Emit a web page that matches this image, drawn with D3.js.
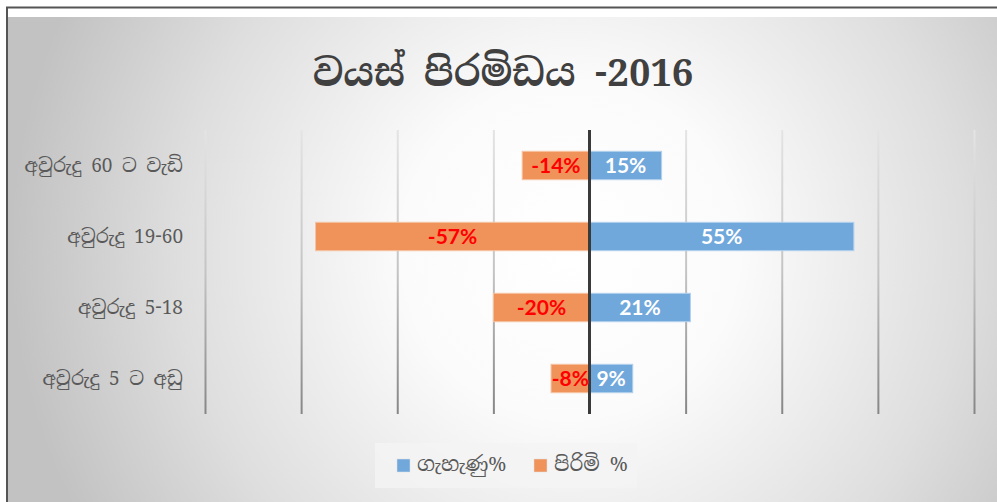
<!DOCTYPE html>
<html>
<head>
<meta charset="utf-8">
<script src="https://cdn.jsdelivr.net/npm/d3@7"></script>
<style>
  html, body { margin: 0; padding: 0; background: #fff; }
  svg { display: block; }
</style>
</head>
<body>
<div id="chart"></div>
<script>
(function(){

const width = 997;
const height = 502;

// data
const categories = ["අවුරුදු 60 ට වැඩි", "අවුරුදු 19-60", "අවුරුදු 5-18", "අවුරුදු 5 ට අඩු"];
const female = [15, 55, 21, 9];      // ගැහැණු%
const male = [-14, -57, -20, -8];    // පිරිමි %
const seriesNames = ["ගැහැණු%", "පිරිමි %"];
const gridTicks = [-80, -60, -40, -20, 20, 40, 60, 80];
const title = "වයස් පිරමිඩය -2016";

const sinhalaFont = "'Iskoola Pota', 'Noto Serif Sinhala', 'Noto Sans Sinhala', 'Liberation Serif', serif";
const labelFont = "Lato, 'Open Sans', 'Liberation Sans', sans-serif";

const colors = { female: "#70a8dc", male: "#f0935a" };

const svg = d3.select("#chart")
  .append("svg")
  .attr("width", width)
  .attr("height", height);

const defs = svg.append("defs");

// background gradient
const bg = defs.append("radialGradient")
  .attr("id", "bgGrad")
  .attr("gradientUnits", "userSpaceOnUse")
  .attr("cx", 570).attr("cy", 250).attr("r", 560);
bg.append("stop").attr("offset", "0%").attr("stop-color", "#ffffff");
bg.append("stop").attr("offset", "30%").attr("stop-color", "#fbfbfb");
bg.append("stop").attr("offset", "70%").attr("stop-color", "#dedede");
bg.append("stop").attr("offset", "100%").attr("stop-color", "#c2c2c2");

// gridline gradient: light at top, darker at bottom (local coords of tick lines)
const gg = defs.append("linearGradient")
  .attr("id", "gridGrad")
  .attr("gradientUnits", "userSpaceOnUse")
  .attr("x1", 0).attr("y1", -284).attr("x2", 0).attr("y2", 0);
gg.append("stop").attr("offset", "0%").attr("stop-color", "#e4e4e4");
gg.append("stop").attr("offset", "50%").attr("stop-color", "#c4c4c4");
gg.append("stop").attr("offset", "100%").attr("stop-color", "#868686");

// frame
svg.append("rect")
  .attr("x", 0).attr("y", 0).attr("width", width).attr("height", height)
  .attr("fill", "#ffffff");
svg.append("rect")
  .attr("x", 8).attr("y", 17).attr("width", width - 8).attr("height", height - 17)
  .attr("fill", "url(#bgGrad)");
svg.append("line")
  .attr("x1", 6).attr("x2", width).attr("y1", 7.5).attr("y2", 7.5)
  .attr("stroke", "#555").attr("stroke-width", 2);
svg.append("line")
  .attr("x1", 7).attr("x2", 7).attr("y1", 7).attr("y2", height)
  .attr("stroke", "#555").attr("stroke-width", 2);

// scales
const x = d3.scaleLinear()
  .domain([-80, 80])
  .range([205, 974]);

const y = d3.scaleBand()
  .domain(categories)
  .range([130, 414])
  .paddingInner(0.6)
  .paddingOuter(0.3);

// gridlines
const grid = svg.append("g")
  .attr("transform", "translate(0,414)")
  .call(d3.axisBottom(x)
    .tickValues(gridTicks)
    .tickSize(-284)
    .tickFormat(""));
grid.select(".domain").remove();
grid.selectAll(".tick line")
  .attr("stroke", "url(#gridGrad)")
  .attr("stroke-width", 2);

// category axis
const yAxis = svg.append("g")
  .attr("transform", "translate(183,0)")
  .call(d3.axisLeft(y).tickSize(0).tickPadding(0));
yAxis.select(".domain").remove();
yAxis.selectAll("text")
  .attr("fill", "#595959")
  .style("font-family", sinhalaFont)
  .style("font-size", "19px");

// bars
const rows = categories.map((c, i) => ({ cat: c, f: female[i], m: male[i] }));

svg.selectAll(".bar-m")
  .data(rows)
  .enter()
  .append("rect")
  .attr("class", "bar-m")
  .attr("x", d => x(d.m))
  .attr("y", d => y(d.cat))
  .attr("width", d => x(0) - x(d.m))
  .attr("height", y.bandwidth())
  .attr("fill", colors.male)
  .attr("stroke", "#f6c3a2")
  .attr("stroke-width", 1);

svg.selectAll(".bar-f")
  .data(rows)
  .enter()
  .append("rect")
  .attr("class", "bar-f")
  .attr("x", x(0))
  .attr("y", d => y(d.cat))
  .attr("width", d => x(d.f) - x(0))
  .attr("height", y.bandwidth())
  .attr("fill", colors.female)
  .attr("stroke", "#b3d1ee")
  .attr("stroke-width", 1);

// zero axis line
svg.append("line")
  .attr("x1", x(0)).attr("x2", x(0))
  .attr("y1", 130).attr("y2", 414)
  .attr("stroke", "#3a3a3a")
  .attr("stroke-width", 3);

// value labels
svg.selectAll(".lab-m")
  .data(rows)
  .enter()
  .append("text")
  .attr("class", "lab-m")
  .attr("x", d => (x(d.m) + x(0)) / 2)
  .attr("y", d => y(d.cat) + y.bandwidth() / 2 + 7)
  .attr("text-anchor", "middle")
  .attr("fill", "#ff0000")
  .style("font-family", labelFont)
  .style("font-weight", "bold")
  .style("font-size", "21px")
  .text(d => d.m + "%");

svg.selectAll(".lab-f")
  .data(rows)
  .enter()
  .append("text")
  .attr("class", "lab-f")
  .attr("x", d => (x(d.f) + x(0)) / 2)
  .attr("y", d => y(d.cat) + y.bandwidth() / 2 + 7)
  .attr("text-anchor", "middle")
  .attr("fill", "#ffffff")
  .style("font-family", labelFont)
  .style("font-weight", "bold")
  .style("font-size", "21px")
  .text(d => d.f + "%");

// title
svg.append("text")
  .attr("x", 503)
  .attr("y", 86)
  .attr("text-anchor", "middle")
  .attr("fill", "#404040")
  .style("font-family", sinhalaFont)
  .style("font-weight", "bold")
  .style("font-size", "38px")
  .text(title);

// legend
svg.append("rect")
  .attr("x", 375).attr("y", 443)
  .attr("width", 262).attr("height", 45)
  .attr("fill", "#f4f4f4")
  .attr("opacity", 0.8);

const legendX = [397, 534];
const legendColors = [colors.female, colors.male];
const legend = svg.selectAll(".legend")
  .data(seriesNames)
  .enter()
  .append("g")
  .attr("class", "legend")
  .attr("transform", (d, i) => `translate(${legendX[i]}, 459)`);

legend.append("rect")
  .attr("width", 13)
  .attr("height", 13)
  .attr("fill", (d, i) => legendColors[i])
  .attr("stroke", "#e0e0e0")
  .attr("stroke-width", 0.5);

legend.append("text")
  .attr("x", 20)
  .attr("y", 12)
  .attr("fill", "#595959")
  .style("font-family", sinhalaFont)
  .style("font-size", "20px")
  .text(d => d);

})();
</script>
</body>
</html>
